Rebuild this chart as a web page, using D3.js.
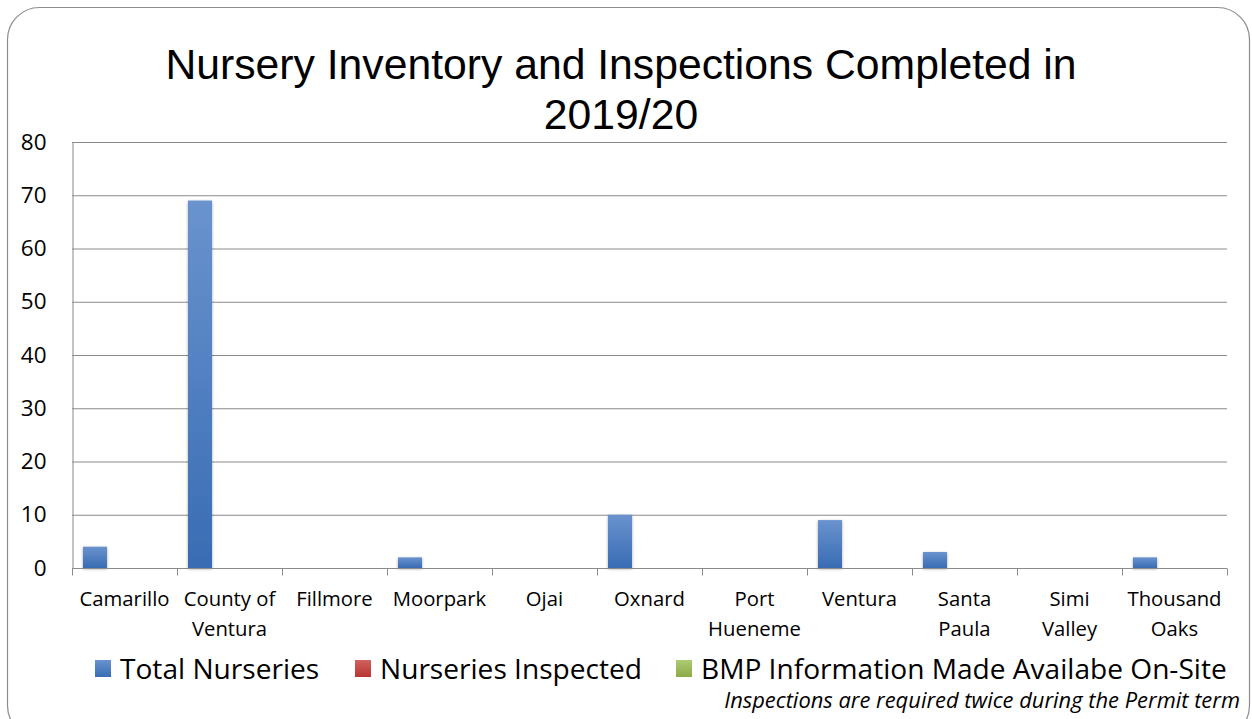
<!DOCTYPE html>
<html>
<head>
<meta charset="utf-8">
<script src="https://cdn.jsdelivr.net/npm/d3@7"></script>
<style>
  body { margin: 0; background: #fff; }
  text { fill: #000; }
</style>
</head>
<body>
<div id="chart"></div>
<script>
// data
const categories = ["Camarillo", "County of Ventura", "Fillmore", "Moorpark", "Ojai", "Oxnard",
  "Port Hueneme", "Ventura", "Santa Paula", "Simi Valley", "Thousand Oaks"];
const categoryLines = [["Camarillo"], ["County of", "Ventura"], ["Fillmore"], ["Moorpark"], ["Ojai"], ["Oxnard"],
  ["Port", "Hueneme"], ["Ventura"], ["Santa", "Paula"], ["Simi", "Valley"], ["Thousand", "Oaks"]];
const seriesNames = ["Total Nurseries", "Nurseries Inspected", "BMP Information Made Availabe On-Site"];
const totalNurseries = [4, 69, 0, 2, 0, 10, 0, 9, 3, 0, 2];
const nurseriesInspected = [0, 0, 0, 0, 0, 0, 0, 0, 0, 0, 0];
const bmpInfo = [0, 0, 0, 0, 0, 0, 0, 0, 0, 0, 0];
const yTicks = [0, 10, 20, 30, 40, 50, 60, 70, 80];

const seriesValues = [totalNurseries, nurseriesInspected, bmpInfo];
const colors = [["#6a93ce", "#386cb3"], ["#d0625f", "#b93431"], ["#aecb72", "#8aab46"]];

const width = 1252, height = 719;
const margin = {left: 72, right: 25, top: 142, bottom: 151};

const svg = d3.select("#chart").append("svg")
    .attr("width", width)
    .attr("height", height);

const defs = svg.append("defs");
colors.forEach((c, i) => {
    const g = defs.append("linearGradient")
        .attr("id", "grad" + i)
        .attr("x1", "0%").attr("y1", "0%")
        .attr("x2", "0%").attr("y2", "100%");
    g.append("stop").attr("offset", "0%").attr("stop-color", c[0]);
    g.append("stop").attr("offset", "100%").attr("stop-color", c[1]);
});
const shadow = defs.append("filter").attr("id", "shadow")
    .attr("x", "-30%").attr("y", "-10%").attr("width", "160%").attr("height", "130%");
shadow.append("feDropShadow").attr("dx", 0).attr("dy", 1).attr("stdDeviation", 1.6)
    .attr("flood-color", "#000").attr("flood-opacity", 0.35);

// outer rounded frame
svg.append("rect")
    .attr("x", 7.5).attr("y", 7.5)
    .attr("width", 1242).attr("height", 730)
    .attr("rx", 32).attr("ry", 32)
    .attr("fill", "none")
    .attr("stroke", "#8c8c8c")
    .attr("stroke-width", 1.2);

// title
const title = svg.append("text")
    .attr("text-anchor", "middle")
    .attr("font-family", "Liberation Sans, Arial, sans-serif")
    .attr("font-size", 42.7);
title.append("tspan").attr("x", 621).attr("y", 79).text("Nursery Inventory and Inspections Completed in");
title.append("tspan").attr("x", 621).attr("y", 129).text("2019/20");

const x0 = d3.scaleBand()
    .domain(categories)
    .range([margin.left, width - margin.right]);

const x1 = d3.scaleBand()
    .domain(d3.range(seriesNames.length))
    .range([11, 11 + 24 * 3]);

const y = d3.scaleLinear()
    .domain([0, 80])
    .range([height - margin.bottom, margin.top]);

// gridlines
svg.append("g")
    .selectAll("line")
    .data(yTicks)
    .join("line")
    .attr("x1", margin.left).attr("x2", width - margin.right)
    .attr("y1", d => y(d) + 0.5).attr("y2", d => y(d) + 0.5)
    .attr("stroke", "#8a8a8a")
    .attr("stroke-width", 1);

// y axis
const yAxis = svg.append("g")
    .attr("transform", `translate(${margin.left + 0.5},0)`)
    .call(d3.axisLeft(y).tickValues(yTicks).tickSize(0).tickPadding(26));
yAxis.select(".domain").attr("stroke", "#8a8a8a");
yAxis.selectAll("text")
    .attr("font-family", "Open Sans, sans-serif")
    .attr("font-size", 22.5)
    .attr("fill", "#000");

// bars
categories.forEach((cat, ci) => {
    seriesValues.forEach((vals, si) => {
        const v = vals[ci];
        if (v <= 0) return;
        svg.append("rect")
            .attr("x", x0(cat) + x1(si))
            .attr("y", y(v))
            .attr("width", x1.bandwidth())
            .attr("height", y(0) - y(v))
            .attr("fill", `url(#grad${si})`)
            .attr("filter", "url(#shadow)");
    });
});

// x axis
const xAxis = svg.append("g")
    .attr("transform", `translate(0,${y(0) + 0.5})`);
xAxis.append("line")
    .attr("x1", margin.left).attr("x2", width - margin.right)
    .attr("stroke", "#8a8a8a");
xAxis.selectAll(".tick")
    .data(categories.concat([null]))
    .join("line")
    .attr("class", "tick")
    .attr("x1", (d, i) => i < categories.length ? x0(d) + 0.5 : x0(categories[i - 1]) + x0.bandwidth() + 0.5)
    .attr("x2", (d, i) => i < categories.length ? x0(d) + 0.5 : x0(categories[i - 1]) + x0.bandwidth() + 0.5)
    .attr("y1", 0).attr("y2", 7)
    .attr("stroke", "#8a8a8a");

const labels = svg.append("g")
    .attr("font-family", "Open Sans, sans-serif")
    .attr("font-size", 20.3)
    .attr("text-anchor", "middle");
categories.forEach((cat, ci) => {
    const t = labels.append("text");
    categoryLines[ci].forEach((line, li) => {
        t.append("tspan")
            .attr("x", x0(cat) + x0.bandwidth() / 2)
            .attr("y", 606 + li * 30)
            .text(line);
    });
});

// legend
const legendX = [95, 355, 676];
const legend = svg.append("g");
seriesNames.forEach((name, i) => {
    legend.append("rect")
        .attr("x", legendX[i]).attr("y", 660)
        .attr("width", 16).attr("height", 17)
        .attr("fill", `url(#grad${i})`);
    legend.append("text")
        .attr("x", legendX[i] + 25).attr("y", 679)
        .attr("font-family", "Open Sans, sans-serif")
        .attr("font-size", 28.1)
        .text(name);
});

// footnote
svg.append("text")
    .attr("x", 1240).attr("y", 708)
    .attr("text-anchor", "end")
    .attr("font-family", "Open Sans, sans-serif")
    .attr("font-style", "italic")
    .attr("font-size", 21.9)
    .text("Inspections are required twice during the Permit term");
</script>
</body>
</html>
